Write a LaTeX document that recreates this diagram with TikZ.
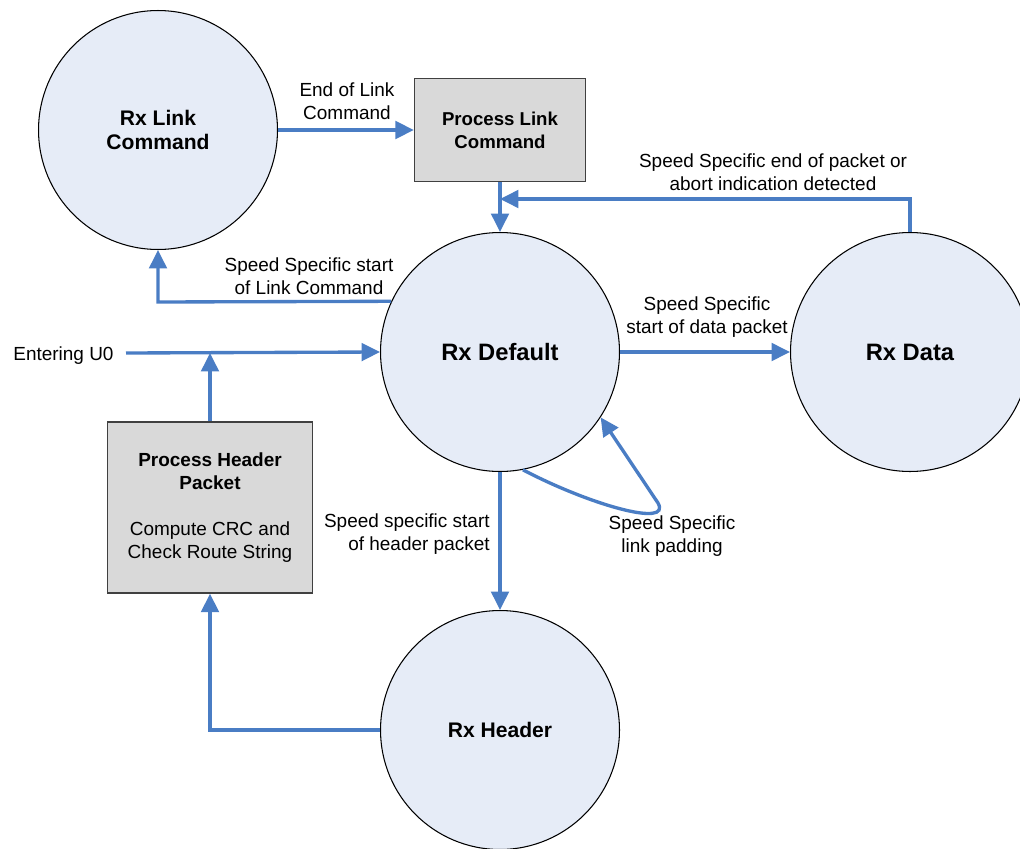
\documentclass[tikz,border=0pt]{standalone}
\usepackage{fontspec}
\setmainfont{Liberation Sans}
\usetikzlibrary{arrows.meta}
\definecolor{cfill}{HTML}{E6ECF7}
\definecolor{bfill}{HTML}{D9D9D9}
\definecolor{arrc}{HTML}{4A7DC4}
\begin{document}
\begin{tikzpicture}[x=0.02cm,y=-0.02cm,
  state/.style={circle,draw=black,line width=0.6pt,fill=cfill,minimum size=4.78cm,inner sep=0pt,font=\bfseries\fontsize{12}{14}\selectfont,align=center},
  bigstate/.style={state,font=\bfseries\fontsize{13.5}{16}\selectfont},
  procbox/.style={rectangle,draw=black!75,line width=0.8pt,fill=bfill,inner sep=0pt,align=center},
  arr/.style={draw=arrc,line width=1.9pt,-{Triangle[length=10.5pt,width=10pt]}},
  lbl/.style={font=\fontsize{10.8}{13}\selectfont,inner sep=0pt}]
\useasboundingbox (0,0) rectangle (1020,848);
% nodes
\node[state] (rlc) at (158,130) {Rx Link\\Command};
\node[bigstate] (def) at (500,352) {Rx Default};
\node[bigstate] (data) at (910,352) {Rx Data};
\node[state] (hdr) at (500,730) {Rx Header};
\node[procbox,minimum width=3.42cm,minimum height=2.06cm,font=\bfseries\fontsize{10.6}{13}\selectfont] (plc) at (500,130) {Process Link\\Command};
\node[procbox,minimum width=4.1cm,minimum height=3.42cm,font=\fontsize{10.8}{13}\selectfont] (php) at (210,507.5)
  {\textbf{Process Header}\\\textbf{Packet}\\[13pt]Compute CRC and\\Check Route String};
% labels
\node[lbl,align=center] (l1) at (347,101) {End of Link\\Command};
\node[lbl,align=center] (l2) at (309,276) {Speed Specific start\\of Link Command};
\node[lbl,align=center] (l3) at (773,172) {Speed Specific end of packet or\\abort indication detected};
\node[lbl,align=center] (l4) at (707,317) {Speed Specific\\start of data packet};
\node[lbl,anchor=west] (l5) at (13,356) {Entering U0};
\node[lbl,align=right,anchor=east] (l6) at (490,534) {Speed specific start\\of header packet};
\node[lbl,align=center] (l7) at (672,536) {Speed Specific\\link padding};
% coordinates
\coordinate (e0) at (126,353);
\coordinate (j1) at (500,199);
\coordinate (j2) at (158,302);
% connectors
\draw[arr] (rlc) -- (plc);
\draw[arr] (plc.south) -- (def.north);
\draw[arr] (data.north) |- (j1);
\draw[arr] (def.155.4) -- (j2) -- (rlc.south);
\draw[arr] (e0) -- (def.west);
\draw[arr] (php.north) -- (php.north |- e0);
\draw[arr] (def) -- (data);
\draw[arr] (def.south) -- (hdr.north);
\draw[arr] (hdr.west) -| (php.south);
\draw[arr] (def.-79) .. controls (590,505) and (672,528) .. (658,503) -- (def.-33);
\end{tikzpicture}
\end{document}
